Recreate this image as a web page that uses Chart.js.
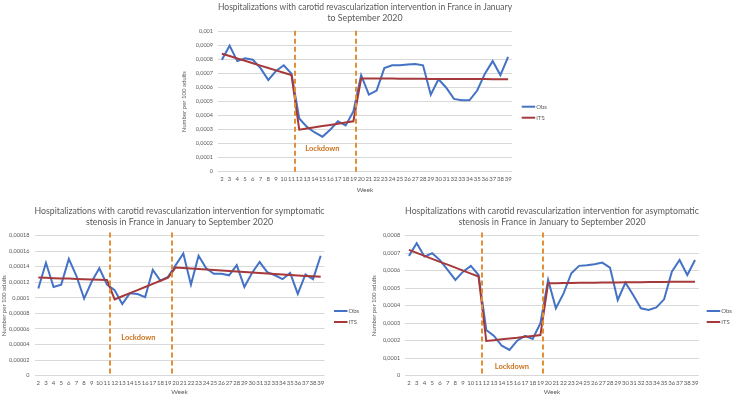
<!DOCTYPE html>
<html>
<head>
<meta charset="utf-8">
<script src="https://cdn.jsdelivr.net/npm/chart.js@4.4.0/dist/chart.umd.min.js"></script>
<style>
  html, body { margin: 0; padding: 0; background: #ffffff; }
  body { width: 734px; height: 398px; position: relative; overflow: hidden; }
  .box { position: absolute; }
</style>
</head>
<body>
<div class="box" style="left:180px;top:0px;width:380px;height:200px;"><canvas id="c1"></canvas></div>
<div class="box" style="left:0px;top:200px;width:370px;height:198px;"><canvas id="c2"></canvas></div>
<div class="box" style="left:370px;top:200px;width:364px;height:198px;"><canvas id="c3"></canvas></div>
<script>
// ---------- DATA ----------
const weeks = ['2','3','4','5','6','7','8','9','10','11','12','13','14','15','16','17','18','19','20',
  '21','22','23','24','25','26','27','28','29','30','31','32','33','34','35','36','37','38','39'];

const seriesNames = ['Obs', 'ITS'];

// All carotid revascularization
const obsAll = [0.00080,0.00090,0.00079,0.00081,0.00080,0.00074,0.000655,0.00072,0.00076,0.00070,
  0.00038,0.00032,0.00028,0.00025,0.00030,0.00036,0.00033,0.00043,0.00069,
  0.00055,0.00058,0.00074,0.00076,0.00076,0.000765,0.00077,0.00076,0.00055,0.00066,0.00060,
  0.00052,0.00051,0.00051,0.00058,0.00070,0.00079,0.00069,0.00082];
const itsAll = [0.000843,0.000826,0.000809,0.000792,0.000775,0.000758,0.000741,0.000724,0.000707,0.00069,
  0.00030,0.000309,0.000317,0.000326,0.000334,0.000343,0.000351,0.00036,0.000665,
  0.000665,0.000665,0.000665,0.000665,0.000664,0.000664,0.000664,0.000664,0.000663,0.000663,0.000663,
  0.000663,0.000662,0.000662,0.000662,0.000662,0.000661,0.000661,0.00066];
const yTicksAll = ['0','0,0001','0,0002','0,0003','0,0004','0,0005','0,0006','0,0007','0,0008','0,0009','0,001'];

// Symptomatic stenosis
const obsSym = [0.000112,0.000145,0.000114,0.000117,0.000150,0.000128,0.000099,0.000121,0.000138,0.000117,
  0.000110,0.000092,0.000106,0.000105,0.000101,0.000136,0.000122,0.000127,0.000142,
  0.000157,0.000117,0.000154,0.000138,0.000131,0.000131,0.000129,0.000142,0.000114,0.000132,0.000146,
  0.000133,0.000129,0.000124,0.000132,0.000105,0.000130,0.000124,0.000154];
const itsSym = [0.000126,0.0001257,0.0001253,0.000125,0.0001247,0.0001243,0.000124,0.0001237,0.0001233,0.000123,
  0.000098,0.000102,0.000106,0.000110,0.000114,0.000118,0.000122,0.000126,0.000139,
  0.0001384,0.0001377,0.0001371,0.0001364,0.0001358,0.0001352,0.0001345,0.0001339,0.0001333,0.0001326,0.000132,
  0.0001314,0.0001307,0.0001301,0.0001295,0.0001288,0.0001282,0.0001276,0.000127];
const yTicksSym = ['0','0,00002','0,00004','0,00006','0,00008','0,0001','0,00012','0,00014','0,00016','0,00018'];

// Asymptomatic stenosis
const obsAsym = [0.000684,0.000756,0.000680,0.000699,0.000660,0.000604,0.000547,0.000594,0.000627,0.000575,
  0.000261,0.000227,0.000171,0.000147,0.000200,0.000227,0.000210,0.000300,0.000547,
  0.000385,0.000470,0.000585,0.000627,0.000630,0.000636,0.000646,0.000617,0.000432,0.000531,0.000461,
  0.000385,0.000375,0.000390,0.000436,0.000594,0.000661,0.000575,0.000661];
const itsAsym = [0.000718,0.000701,0.000684,0.000667,0.000650,0.000634,0.000617,0.000600,0.000583,0.000566,
  0.000198,0.000203,0.000208,0.000213,0.000217,0.000222,0.000227,0.000232,0.000528,
  0.0005285,0.000529,0.0005295,0.00053,0.0005305,0.000531,0.0005315,0.000532,0.0005325,0.000533,0.0005335,
  0.000534,0.0005345,0.000535,0.0005355,0.000536,0.0005365,0.000537,0.000537];
const yTicksAsym = ['0','0,0001','0,0002','0,0003','0,0004','0,0005','0,0006','0,0007','0,0008'];

const titleAll = ['Hospitalizations with carotid revascularization intervention in France in January', 'to September 2020'];
const titleSym = ['Hospitalizations with carotid revascularization intervention for symptomatic', 'stenosis in France in January to September 2020'];
const titleAsym = ['Hospitalizations with carotid revascularization intervention for asymptomatic', 'stenosis in France in January to September 2020'];

const lockdownLabel = 'Lockdown';
const xTitle = 'Week';
const yTitle = 'Number per 100 adults';

// ---------- STYLE ----------
const FONT = 'Lato, "Open Sans", "Liberation Sans", sans-serif';
const BLUE = '#4472C4';
const RED = '#A5393B';
const ORANGE = '#E38F33';
const LOCK_TXT = '#C9731F';
const GRID = '#D9D9D9';
const TXT = '#595959';

const overlayPlugin = {
  id: 'overlay',
  afterDatasetsDraw(chart) {
    const o = chart.options.plugins.overlay;
    const ctx = chart.ctx;
    const x = chart.scales.x, y = chart.scales.y;
    const a = chart.chartArea;
    const p0 = x.getPixelForTick(0), step = x.getPixelForTick(1) - p0;
    const px = w => p0 + (w - 2) * step;
    ctx.save();
    ctx.strokeStyle = ORANGE;
    ctx.lineWidth = 2;
    ctx.setLineDash([5, 3]);
    [o.start, o.end].forEach(w => {
      const xx = Math.round(px(w));
      ctx.beginPath();
      ctx.moveTo(xx, a.top - o.lineExtra);
      ctx.lineTo(xx, a.bottom);
      ctx.stroke();
    });
    ctx.setLineDash([]);
    ctx.fillStyle = LOCK_TXT;
    ctx.font = 'bold 7.5px ' + FONT;
    ctx.textAlign = 'center';
    ctx.textBaseline = 'middle';
    ctx.fillText(lockdownLabel, px(o.labelWeek), y.getPixelForValue(o.labelValue));
    ctx.restore();
  },
  afterDraw(chart) {
    const o = chart.options.plugins.overlay;
    const ctx = chart.ctx;
    ctx.save();
    ctx.font = '6px ' + FONT;
    ctx.textBaseline = 'middle';
    ctx.textAlign = 'left';
    chart.data.datasets.forEach((ds, i) => {
      const yy = o.legendY + i * 11;
      ctx.strokeStyle = ds.borderColor;
      ctx.lineWidth = 2;
      ctx.beginPath();
      ctx.moveTo(o.legendX, yy);
      ctx.lineTo(o.legendX + 13.5, yy);
      ctx.stroke();
      ctx.fillStyle = TXT;
      ctx.fillText(ds.label, o.legendX + 14.5, yy);
    });
    ctx.restore();
  }
};

function makeChart(id, cfg) {
  return new Chart(document.getElementById(id), {
    type: 'line',
    data: {
      labels: weeks,
      datasets: [
        { label: seriesNames[0], data: cfg.obs, borderColor: BLUE, backgroundColor: BLUE, borderWidth: 2, pointRadius: 0, tension: 0, order: 2 },
        { label: seriesNames[1], data: cfg.its, borderColor: RED, backgroundColor: RED, borderWidth: 2, pointRadius: 0, tension: 0, order: 1 }
      ]
    },
    options: {
      responsive: true,
      maintainAspectRatio: false,
      animation: false,
      devicePixelRatio: 1,
      layout: { padding: { left: 0, right: cfg.padRight, top: 0, bottom: cfg.padBottom } },
      plugins: {
        legend: { display: false },
        tooltip: { enabled: false },
        title: {
          display: true,
          text: cfg.title,
          fullSize: false,
          color: TXT,
          font: { family: FONT, size: 8.8, weight: 'normal', lineHeight: cfg.titleLH },
          padding: { top: cfg.titleTop, bottom: cfg.titleBottom }
        },
        overlay: cfg.overlay
      },
      scales: {
        x: {
          type: 'category',
          offset: true,
          grid: { display: false, drawTicks: false },
          border: { display: false },
          ticks: { autoSkip: false, maxRotation: 0, minRotation: 0, padding: 4, color: TXT, font: { family: FONT, size: 6 } },
          title: { display: true, text: xTitle, color: TXT, font: { family: FONT, size: 6.5 }, padding: { top: 0, bottom: 0 } },
          afterFit(s) { s.height = cfg.xHeight; }
        },
        y: {
          min: 0,
          max: cfg.yMax,
          grid: { color: GRID, lineWidth: 1, drawTicks: false },
          border: { display: false },
          ticks: {
            stepSize: cfg.yStep,
            padding: 5,
            color: TXT,
            font: { family: FONT, size: 5.5 },
            callback: (v, i) => cfg.yTicks[i]
          },
          title: { display: true, text: yTitle, color: TXT, font: { family: FONT, size: 6 }, padding: { top: 0, bottom: 0 } },
          afterFit(s) { s.width = cfg.yWidth; }
        }
      }
    },
    plugins: [overlayPlugin]
  });
}

makeChart('c1', {
  obs: obsAll, its: itsAll, yMax: 0.001, yStep: 0.0001, yTicks: yTicksAll, title: titleAll,
  yWidth: 38, xHeight: 22, padRight: 48, padBottom: 6.3,
  titleLH: 1.33, titleTop: 1, titleBottom: 7.3,
  overlay: { start: 11.4, end: 19.3, labelWeek: 15.0, labelValue: 0.000162, lineExtra: 1, legendX: 341.7, legendY: 106.7 }
});
makeChart('c2', {
  obs: obsSym, its: itsSym, yMax: 0.00018, yStep: 0.00002, yTicks: yTicksSym, title: titleSym,
  yWidth: 34.5, xHeight: 20, padRight: 45.5, padBottom: 2.3,
  titleLH: 1.22, titleTop: 6.2, titleBottom: 7.9,
  overlay: { start: 11.4, end: 19.5, labelWeek: 15.1, labelValue: 0.0000489, lineExtra: 3, legendX: 334, legendY: 111 }
});
makeChart('c3', {
  obs: obsAsym, its: itsAsym, yMax: 0.0008, yStep: 0.0001, yTicks: yTicksAsym, title: titleAsym,
  yWidth: 35.1, xHeight: 20, padRight: 35.1, padBottom: 2.3,
  titleLH: 1.22, titleTop: 6.2, titleBottom: 7.9,
  overlay: { start: 11.5, end: 19.4, labelWeek: 15.3, labelValue: 0.0000514, lineExtra: 3, legendX: 336.7, legendY: 111 }
});
</script>
</body>
</html>
